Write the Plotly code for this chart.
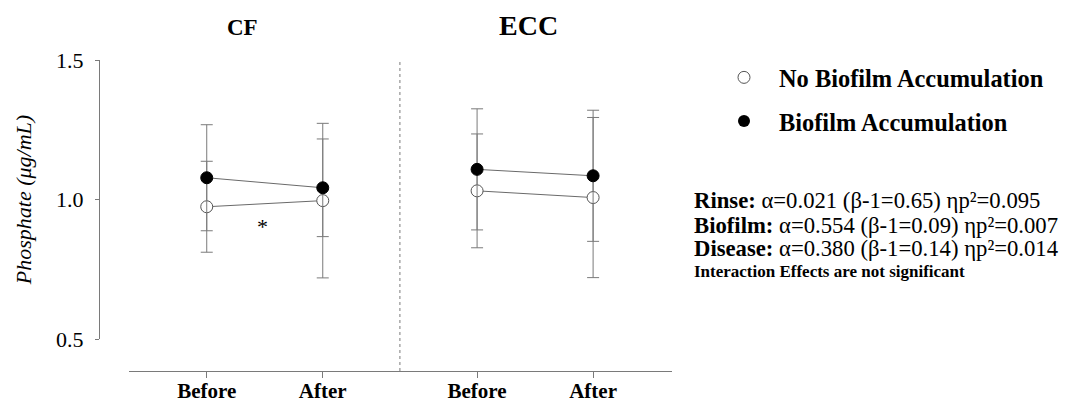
import plotly.graph_objects as go

# ---- data ----
groups = ["CF", "ECC"]
timepoints = ["Before", "After"]
no_biofilm = {"CF": [0.974, 0.996], "ECC": [1.031, 1.007]}
no_biofilm_err = {"CF": [0.163, 0.277], "ECC": [0.204, 0.287]}
biofilm = {"CF": [1.078, 1.042], "ECC": [1.108, 1.085]}
biofilm_err = {"CF": [0.190, 0.175], "ECC": [0.217, 0.235]}
y_ticks = [0.5, 1.0, 1.5]
stats_lines = [
    ("Rinse:", "α=0.021 (β-1=0.65) ηp²=0.095"),
    ("Biofilm:", "α=0.554 (β-1=0.09) ηp²=0.007"),
    ("Disease:", "α=0.380 (β-1=0.14) ηp²=0.014"),
]
note = "Interaction Effects are not significant"

# ---- layout helpers ----
group_x = {"CF": [1.0, 2.0], "ECC": [3.33, 4.33]}
divider_x = (group_x["CF"][1] + group_x["ECC"][0]) / 2
W, H = 1065, 404
ML, MR, MT, MB = 99, 393, 60, 33
PW, PH = W - ML - MR, H - MT - MB


def px_x(px):
    return (px - ML) / PW


def px_y(py):
    return (H - MB - py) / PH


SERIF = "Liberation Serif, Times New Roman, serif"
GRAY = "#7a7a7a"
LINE = "#6a6a6a"

fig = go.Figure()

for g in groups:
    fig.add_trace(go.Scatter(
        x=group_x[g], y=no_biofilm[g], mode="lines+markers",
        line=dict(color=LINE, width=1),
        marker=dict(symbol="circle", size=12, color="white", line=dict(color="#555555", width=1)),
        error_y=dict(type="data", array=no_biofilm_err[g], color=GRAY, thickness=1, width=6),
        showlegend=False, hoverinfo="skip"))
    fig.add_trace(go.Scatter(
        x=group_x[g], y=biofilm[g], mode="lines+markers",
        line=dict(color=LINE, width=1),
        marker=dict(symbol="circle", size=12, color="black", line=dict(color="black", width=1)),
        error_y=dict(type="data", array=biofilm_err[g], color=GRAY, thickness=1, width=6),
        showlegend=False, hoverinfo="skip"))

# legend entries
fig.add_trace(go.Scatter(x=[None], y=[None], mode="markers", name="No Biofilm Accumulation",
                         legendgroup="a",
                         marker=dict(symbol="circle", size=12, color="white", line=dict(color="#555555", width=1))))
fig.add_trace(go.Scatter(x=[None], y=[None], mode="markers", name="Biofilm Accumulation",
                         legendgroup="b",
                         marker=dict(symbol="circle", size=12, color="black")))

tickvals = group_x["CF"] + group_x["ECC"]
ticktext = [f"<b>{t}</b>" for t in timepoints] * 2

fig.update_layout(
    width=W, height=H,
    margin=dict(l=ML, r=MR, t=MT, b=MB, autoexpand=False),
    paper_bgcolor="white", plot_bgcolor="white",
    font=dict(family=SERIF, color="black"),
    xaxis=dict(domain=[px_x(129), 1], range=[0.33, 5.01], anchor="free", position=0,
               tickvals=tickvals, ticktext=ticktext, tickfont=dict(size=21, family=SERIF),
               showline=True, linecolor=GRAY, linewidth=1, ticks="outside", ticklen=6,
               tickcolor=GRAY, showgrid=False, zeroline=False, automargin=False,
               ticklabelstandoff=-5),
    yaxis=dict(domain=[px_y(339), 1], range=[0.5, 1.5], anchor="free", position=0,
               tickvals=y_ticks, tickformat=".1f", tickfont=dict(size=22, family=SERIF),
               showline=True, linecolor=GRAY, linewidth=1, ticks="outside", ticklen=4,
               tickcolor=GRAY, showgrid=False, zeroline=False, automargin=False,
               ticklabelstandoff=7,
               title=dict(text="<i>Phosphate (μg/mL)</i>", font=dict(size=22, family=SERIF),
                          standoff=17)),
    legend=dict(x=px_x(709), y=px_y(55), xanchor="left", yanchor="top",
                font=dict(size=24.4, family=SERIF, weight="bold"), itemwidth=60, tracegroupgap=9,
                bgcolor="rgba(0,0,0,0)", traceorder="grouped"),
)

# divider
fig.add_shape(type="line", xref="x", yref="paper", x0=divider_x, x1=divider_x, y0=0, y1=1,
              line=dict(color=GRAY, width=1, dash="dot"))

# group titles
fig.add_annotation(text="<b>CF</b>", xref="paper", yref="paper", x=px_x(242), y=px_y(28),
                   xanchor="center", yanchor="middle",
                   showarrow=False, font=dict(size=23, family=SERIF))
fig.add_annotation(text="<b>ECC</b>", xref="paper", yref="paper", x=px_x(528), y=px_y(25),
                   xanchor="center", yanchor="middle",
                   showarrow=False, font=dict(size=28, family=SERIF))

# significance asterisk
fig.add_annotation(text="*", xref="x", yref="y", x=1.477, y=0.902, showarrow=False,
                   xanchor="center", yanchor="middle",
                   font=dict(size=22, family=SERIF))

# stats text
line_y = [200, 225, 249]
for (lbl, txt), py in zip(stats_lines, line_y):
    fig.add_annotation(text=f"<b>{lbl}</b> {txt}", xref="paper", yref="paper",
                       x=px_x(692), y=px_y(py), xanchor="left", yanchor="middle",
                       showarrow=False, font=dict(size=22.7, family=SERIF))
fig.add_annotation(text=f"<b>{note}</b>", xref="paper", yref="paper",
                   x=px_x(692), y=px_y(271), xanchor="left", yanchor="middle",
                   showarrow=False, font=dict(size=17, family=SERIF))

fig.write_html("out.html", config={"displayModeBar": False},
               post_script="document.body.style.margin='0px';document.body.style.overflow='hidden';")
